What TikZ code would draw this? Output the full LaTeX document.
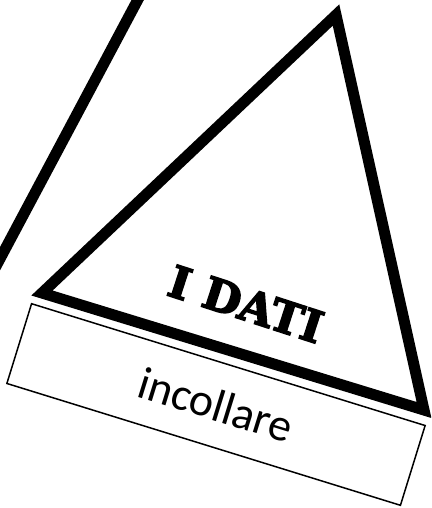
\documentclass[tikz,border=0pt]{standalone}
\usepackage{fontspec}
\newfontfamily\slabfont{DejaVu Serif Bold}[FakeBold=3.5]
\newfontfamily\labelfont{Carlito}
\usetikzlibrary{positioning}

\begin{document}
\begin{tikzpicture}[x=1pt,y=-1pt,
  edge/.style={line width=11pt,line join=miter},
  tab/.style={draw,line width=1.5pt,minimum width=412pt,
              minimum height=83.5pt,rotate=-17.2,inner sep=0pt,
              font=\labelfont\fontsize{46}{46}\selectfont},
  title/.style={rotate=-18,inner sep=0pt,
                font=\slabfont\fontsize{44}{44}\selectfont}]
  \useasboundingbox (0,0) rectangle (431,508);
  \clip (0,0) rectangle (431,508);
  % corners of the triangle
  \coordinate (top) at (336,15);
  \coordinate (left) at (42,293);
  \coordinate (right) at (424,410);
  \draw[edge] (top) -- (left) -- (right) -- cycle;
  % piece of the next triangle
  \coordinate (up) at (143,-10);
  \coordinate (down) at (-6,270);
  \draw[edge] (up) -- (down);
  \node[title] (dati) at (246,304) {I DATI};
  \node[tab] (glue) at (216,404.5) {incollare};
\end{tikzpicture}
\end{document}
